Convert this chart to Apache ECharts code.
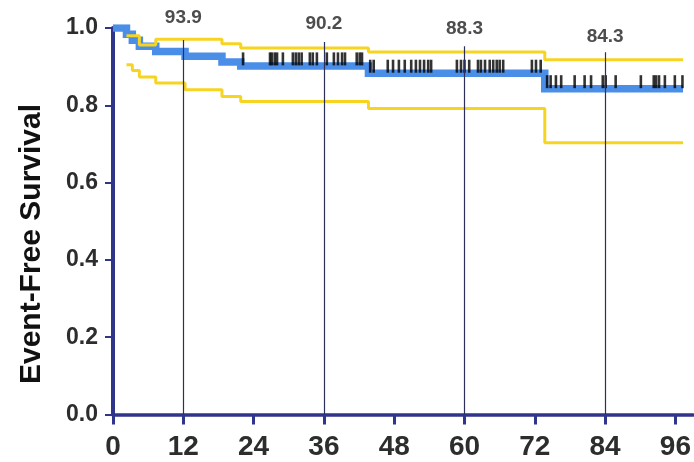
<!DOCTYPE html>
<html>
<head>
<meta charset="utf-8">
<script src="https://cdn.jsdelivr.net/npm/echarts@6.0.0/dist/echarts.min.js"></script>
<style>
html,body{margin:0;padding:0;background:#fff;}
#chart{width:694px;height:462px;}
</style>
</head>
<body>
<div id="chart"></div>
<script>
// Kaplan-Meier estimate (step points: time in months, survival)
const kmTime = [0, 2.3, 3.3, 4.5, 7.3, 12.3, 18.6, 21.8, 43.6, 73.7, 97.3];
const kmSurv = [1.0, 0.984, 0.968, 0.953, 0.939, 0.927, 0.912, 0.902, 0.883, 0.843, 0.843];
// 95% confidence band
const ciTime  = [2.3, 3.3, 4.5, 7.3, 12.3, 18.6, 21.8, 43.6, 73.7, 97.3];
const ciUpper = [0.98, 0.98, 0.956, 0.971, 0.971, 0.959, 0.948, 0.938, 0.918, 0.918];
const ciLower = [0.905, 0.89, 0.873, 0.858, 0.84, 0.823, 0.81, 0.792, 0.703, 0.703];
// censored observations (months)
const censorTimes = [
  22.2, 26.8, 27.1, 27.6, 28.0, 29.0, 30.7, 31.2, 31.7, 32.2, 33.6, 34.1, 34.8, 36.5,
  37.7, 38.4, 39.1, 39.6, 41.6, 42.1, 42.5,
  43.9, 44.5, 46.9, 47.8, 48.8, 49.8, 50.9, 51.7, 52.4, 53.1, 53.8, 54.3,
  58.7, 59.4, 60.0, 60.8, 62.3, 62.8, 63.5, 64.3, 64.9, 65.5, 66.0, 66.6, 71.5, 72.2, 73.0,
  74.1, 74.7, 75.6, 76.5, 78.8, 80.5, 81.6, 83.6, 84.1, 85.8, 90.1, 92.3, 92.7, 93.2,
  94.2, 95.9, 97.2
];
// landmark estimates
const refMonths = [12, 36, 60, 84];
const refLabels = ['93.9', '90.2', '88.3', '84.3'];
// axis ticks
const xTicks = [0, 12, 24, 36, 48, 60, 72, 84, 96];
const yTicks = [0, 0.2, 0.4, 0.6, 0.8, 1.0];
const yTitle = 'Event-Free Survival';

function survAt(t) {
  let s = kmSurv[0];
  for (let i = 0; i < kmTime.length; i++) { if (kmTime[i] <= t) s = kmSurv[i]; }
  return s;
}

const navy = '#2f358a';
const font = "'Liberation Sans', Arial, Helvetica, sans-serif";

// reference line styling (top end of each line and label gap)
const refTop = [0.969, 0.964, 0.953, 0.937];
const refGap = [13, 9, 8, 6];

const chart = echarts.init(document.getElementById('chart'), null, {renderer: 'canvas'});
chart.setOption({
  animation: false,
  backgroundColor: '#fff',
  grid: {left: 113, right: 1, top: 28, bottom: 47.5, containLabel: false, outerBoundsMode: 'none'},
  xAxis: {
    type: 'value', min: 0, max: 99, interval: 12,
    axisLine: {show: true, lineStyle: {color: navy, width: 3.5}},
    axisTick: {show: true, length: 10, lineStyle: {color: navy, width: 3}, customValues: xTicks},
    axisLabel: {customValues: xTicks, margin: 19, fontSize: 28, fontWeight: 'bold', color: '#2d2d2d', fontFamily: font, hideOverlap: false},
    splitLine: {show: false}
  },
  yAxis: {
    type: 'value', min: 0, max: 1, interval: 0.2,
    axisLine: {show: true, lineStyle: {color: navy, width: 4}},
    axisTick: {show: true, length: 8, lineStyle: {color: navy, width: 2}, customValues: yTicks},
    axisLabel: {customValues: yTicks, margin: 15, fontSize: 23, fontWeight: 'bold', color: '#2d2d2d', fontFamily: font,
      formatter: v => v.toFixed(1)},
    splitLine: {show: false}
  },
  graphic: [{
    type: 'text', x: 31.5, y: 244, rotation: Math.PI / 2,
    style: {text: yTitle, font: "bold 30px " + font, fill: '#111', textAlign: 'center', textVerticalAlign: 'middle'}
  }],
  series: [
    {
      name: 'ref', type: 'line', data: [], silent: true,
      markLine: {
        silent: true, symbol: 'none', animation: false,
        lineStyle: {color: '#2b2f5a', width: 1.2, type: 'solid'},
        label: {show: true, position: 'end', fontSize: 19, fontWeight: 'bold', color: '#4d4d4d', fontFamily: font},
        data: refMonths.map((m, i) => [
          {coord: [m, 0], label: {formatter: refLabels[i], distance: refGap[i]}},
          {coord: [m, refTop[i]]}
        ])
      },
      z: 1
    },
    {
      name: 'KM', type: 'line', step: 'end', showSymbol: false, silent: true,
      data: kmTime.map((t, i) => [t, kmSurv[i]]),
      lineStyle: {color: '#4b8ee8', width: 7.5, join: 'miter', cap: 'butt'},
      z: 2
    },
    {
      name: 'upper', type: 'line', step: 'end', showSymbol: false, silent: true,
      data: ciTime.map((t, i) => [t, ciUpper[i]]),
      lineStyle: {color: '#f7d420', width: 3},
      z: 3
    },
    {
      name: 'lower', type: 'line', step: 'end', showSymbol: false, silent: true,
      data: ciTime.map((t, i) => [t, ciLower[i]]),
      lineStyle: {color: '#f7d420', width: 3},
      z: 3
    },
    {
      name: 'censored', type: 'scatter', silent: true,
      data: censorTimes.map(t => [t, survAt(t)]),
      symbol: 'rect', symbolSize: [2.6, 13], symbolOffset: [0, -7],
      itemStyle: {color: '#000'},
      z: 4
    }
  ]
});
</script>
</body>
</html>
